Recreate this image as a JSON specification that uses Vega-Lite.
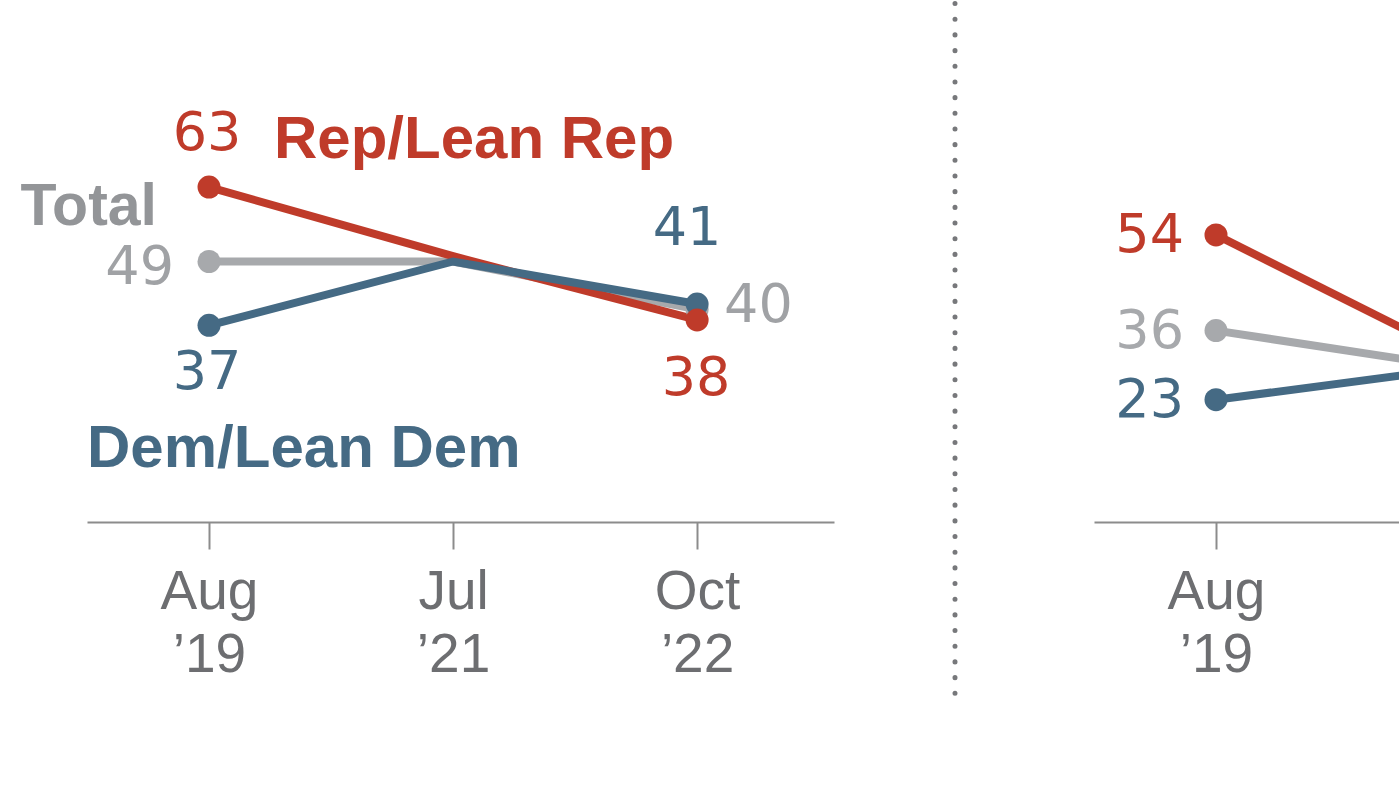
{
  "$schema": "https://vega.github.io/schema/vega-lite/v6.json",
  "background": "white",
  "padding": {"left": 20, "top": -2, "right": 0, "bottom": 0},
  "bounds": "flush",
  "spacing": 0,
  "config": {
    "view": {"stroke": null},
    "font": "Liberation Sans",
    "text": {"font": "DejaVu Sans", "fontSize": 54, "baseline": "middle"}
  },
  "datasets": {
    "left": [
      {"series": "Total", "wave": 1, "value": 49},
      {"series": "Total", "wave": 2, "value": 49},
      {"series": "Total", "wave": 3, "value": 40},
      {"series": "Dem", "wave": 1, "value": 37},
      {"series": "Dem", "wave": 2, "value": 49},
      {"series": "Dem", "wave": 3, "value": 41},
      {"series": "Rep", "wave": 1, "value": 63},
      {"series": "Rep", "wave": 2, "value": 50},
      {"series": "Rep", "wave": 3, "value": 38}
    ],
    "right": [
      {"series": "Total", "wave": 1, "value": 36},
      {"series": "Total", "wave": 2, "value": 29},
      {"series": "Dem", "wave": 1, "value": 23},
      {"series": "Dem", "wave": 2, "value": 29},
      {"series": "Rep", "wave": 1, "value": 54},
      {"series": "Rep", "wave": 2, "value": 31}
    ],
    "divider": [{"at": 121}]
  },
  "hconcat": [
    {
      "width": 747,
      "height": 521,
      "data": {"name": "left"},
      "encoding": {
        "x": {
          "field": "wave", "type": "quantitative",
          "scale": {"domain": [0.5, 3.561]},
          "axis": {
            "values": [1, 2, 3],
            "labelExpr": "datum.value == 1 ? ['Aug', '’19'] : datum.value == 2 ? ['Jul', '’21'] : ['Oct', '’22']",
            "title": null, "grid": false,
            "domainColor": "#8c8c8c", "domainWidth": 2,
            "tickColor": "#8c8c8c", "tickWidth": 2, "tickSize": 27,
            "labelFont": "Liberation Sans", "labelFontSize": 55, "labelColor": "#6d6e71",
            "labelPadding": 16, "labelLineHeight": 63, "labelBaseline": "top",
            "labelFlush": false, "labelOverlap": false
          }
        },
        "y": {"field": "value", "type": "quantitative", "scale": {"domain": [0, 98]}, "axis": null}
      },
      "layer": [
        {"transform": [{"filter": "datum.series == 'Total'"}], "mark": {"type": "line", "color": "#a7a9ac", "strokeWidth": 8}},
        {"transform": [{"filter": "datum.series == 'Rep'"}], "mark": {"type": "line", "color": "#bf3b2a", "strokeWidth": 8}},
        {"transform": [{"filter": "datum.series == 'Dem'"}], "mark": {"type": "line", "color": "#456a84", "strokeWidth": 8}},
        {
          "transform": [{"filter": "datum.wave != 2"}],
          "mark": {"type": "point", "filled": true, "opacity": 1, "size": 530, "shape": "circle"},
          "encoding": {
            "color": {"field": "series", "type": "nominal", "legend": null,
              "scale": {"domain": ["Total", "Dem", "Rep"], "range": ["#a7a9ac", "#456a84", "#bf3b2a"]}}
          }
        },
        {"transform": [{"filter": "datum.series == 'Rep' && datum.wave == 1"}], "mark": {"type": "text", "color": "#bf3b2a", "align": "center", "dx": -2, "dy": -53}, "encoding": {"text": {"field": "value"}}},
        {"transform": [{"filter": "datum.series == 'Total' && datum.wave == 1"}], "mark": {"type": "text", "color": "#a0a2a5", "align": "right", "dx": -35, "dy": 6}, "encoding": {"text": {"field": "value"}}},
        {"transform": [{"filter": "datum.series == 'Dem' && datum.wave == 1"}], "mark": {"type": "text", "color": "#456a84", "align": "center", "dx": -2, "dy": 48}, "encoding": {"text": {"field": "value"}}},
        {"transform": [{"filter": "datum.series == 'Dem' && datum.wave == 3"}], "mark": {"type": "text", "color": "#456a84", "align": "center", "dx": -10, "dy": -75}, "encoding": {"text": {"field": "value"}}},
        {"transform": [{"filter": "datum.series == 'Total' && datum.wave == 3"}], "mark": {"type": "text", "color": "#a0a2a5", "align": "left", "dx": 27, "dy": -3}, "encoding": {"text": {"field": "value"}}},
        {"transform": [{"filter": "datum.series == 'Rep' && datum.wave == 3"}], "mark": {"type": "text", "color": "#bf3b2a", "align": "center", "dx": -1, "dy": 59}, "encoding": {"text": {"field": "value"}}},
        {"transform": [{"filter": "datum.series == 'Rep' && datum.wave == 1"}], "mark": {"type": "text", "font": "Liberation Sans", "color": "#bf3b2a", "align": "left", "fontWeight": "bold", "fontSize": 60, "dx": 65, "dy": -47, "text": "Rep/Lean Rep"}},
        {"transform": [{"filter": "datum.series == 'Total' && datum.wave == 1"}], "mark": {"type": "text", "font": "Liberation Sans", "color": "#939598", "align": "right", "fontWeight": "bold", "fontSize": 59, "dx": -52, "dy": -55, "text": "Total"}},
        {"transform": [{"filter": "datum.series == 'Dem' && datum.wave == 1"}], "mark": {"type": "text", "font": "Liberation Sans", "color": "#456a84", "align": "left", "fontWeight": "bold", "fontSize": 60, "dx": -122, "dy": 124, "text": "Dem/Lean Dem"}}
      ]
    },
    {
      "width": 260,
      "height": 697,
      "data": {"name": "divider"},
      "mark": {"type": "rule", "color": "#77787b", "strokeWidth": 5, "strokeCap": "round", "strokeDash": [0.1, 15.575], "strokeDashOffset": -2.5},
      "encoding": {
        "x": {"field": "at", "type": "quantitative", "scale": {"domain": [0, 260]}, "axis": null}
      }
    },
    {
      "width": 305,
      "height": 521,
      "data": {"name": "right"},
      "encoding": {
        "x": {
          "field": "wave", "type": "quantitative",
          "scale": {"domain": [0.5, 1.75]},
          "axis": {
            "values": [1],
            "labelExpr": "datum.value == 1 ? ['Aug', '’19'] : datum.value == 2 ? ['Jul', '’21'] : ['Oct', '’22']",
            "title": null, "grid": false,
            "domainColor": "#8c8c8c", "domainWidth": 2,
            "tickColor": "#8c8c8c", "tickWidth": 2, "tickSize": 27,
            "labelFont": "Liberation Sans", "labelFontSize": 55, "labelColor": "#6d6e71",
            "labelPadding": 16, "labelLineHeight": 63, "labelBaseline": "top",
            "labelFlush": false, "labelOverlap": false
          }
        },
        "y": {"field": "value", "type": "quantitative", "scale": {"domain": [0, 98]}, "axis": null}
      },
      "layer": [
        {"transform": [{"filter": "datum.series == 'Total'"}], "mark": {"type": "line", "color": "#a7a9ac", "strokeWidth": 8, "clip": true}},
        {"transform": [{"filter": "datum.series == 'Rep'"}], "mark": {"type": "line", "color": "#bf3b2a", "strokeWidth": 8, "clip": true}},
        {"transform": [{"filter": "datum.series == 'Dem'"}], "mark": {"type": "line", "color": "#456a84", "strokeWidth": 8, "clip": true}},
        {
          "transform": [{"filter": "datum.wave == 1"}],
          "mark": {"type": "point", "filled": true, "opacity": 1, "size": 530, "shape": "circle"},
          "encoding": {
            "color": {"field": "series", "type": "nominal", "legend": null,
              "scale": {"domain": ["Total", "Dem", "Rep"], "range": ["#a7a9ac", "#456a84", "#bf3b2a"]}}
          }
        },
        {
          "transform": [{"filter": "datum.wave == 1"}],
          "mark": {"type": "text", "align": "right", "dx": -32, "dy": 1},
          "encoding": {
            "text": {"field": "value"},
            "color": {"field": "series", "type": "nominal", "legend": null,
              "scale": {"domain": ["Total", "Dem", "Rep"], "range": ["#a0a2a5", "#456a84", "#bf3b2a"]}}
          }
        }
      ]
    }
  ]
}
